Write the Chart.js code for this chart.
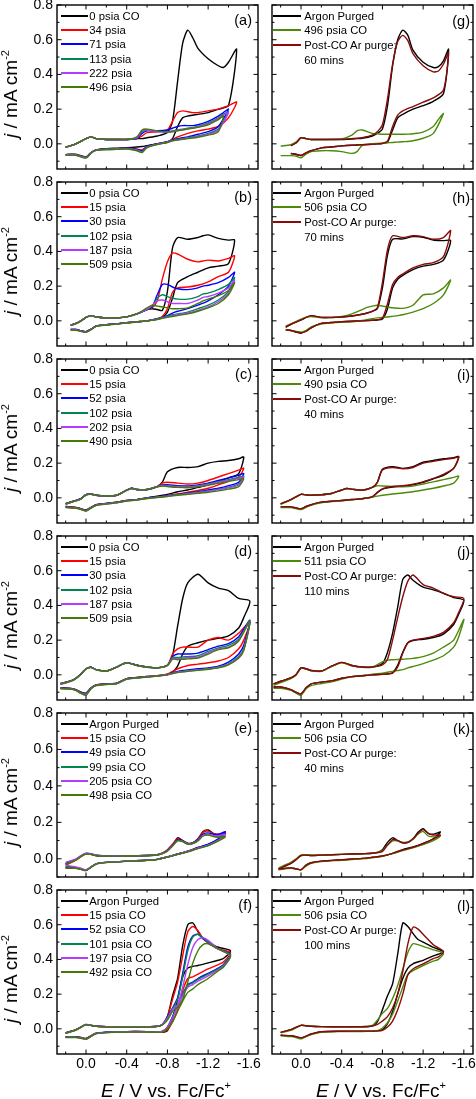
<!DOCTYPE html>
<html>
<head>
<meta charset="utf-8">
<title>CO cyclic voltammograms</title>
<script src="https://cdn.jsdelivr.net/npm/chart.js"></script>
<style>
  body { margin: 0; background: #fff; }
  #fig { position: relative; width: 476px; height: 1099px; overflow: hidden;
         font-family: "Liberation Sans", Arial, sans-serif; color: #000; }
  #fig canvas { position: absolute; }
  .leg { position: absolute; font-size: 11.3px; white-space: nowrap; }
  .leg .row { position: relative; }
  .leg .smp { position: absolute; left: 0; height: 2px; }
  .leg .txt { position: absolute; }
  .tag { position: absolute; font-size: 14.5px; line-height: 16px; }
  .ttl { position: absolute; font-size: 19px; white-space: nowrap; line-height: 20px; }
  .ttl sup { font-size: 11px; vertical-align: 8px; line-height: 0; }
</style>
</head>
<body>
<div id="fig"></div>
<script>
// axis ticks
const xMajor = [0, -0.4, -0.8, -1.2, -1.6];
const xMinor = [0.2, -0.2, -0.6, -1.0, -1.4];
const yMajor = [0, 0.2, 0.4, 0.6, 0.8];
const yMinor = [-0.1, 0.1, 0.3, 0.5, 0.7];

// ---- (a) ----
const labelsA = ['0 psia CO', '34 psia', '71 psia', '113 psia', '222 psia', '496 psia'];
const eA = [0.2, 0.1, 0.0, -0.05, -0.1, -0.2, -0.3, -0.4, -0.5, -0.55, -0.6, -0.7, -0.8, -0.85, -0.9, -0.95, -1.0, -1.05, -1.1, -1.2, -1.3, -1.35, -1.4, -1.48,
  -1.4, -1.3, -1.2, -1.1, -1.0, -0.95, -0.9, -0.85, -0.8, -0.7, -0.6, -0.55, -0.5, -0.4, -0.3, -0.2, -0.1, -0.05, 0.0, 0.1, 0.2];
const jA0 = [-0.02, 0.0, 0.03, 0.04, 0.03, 0.025, 0.025, 0.025, 0.03, 0.03, 0.035, 0.045, 0.065, 0.13, 0.36, 0.58, 0.655, 0.61, 0.55, 0.49, 0.45, 0.44, 0.47, 0.545,
  0.22, 0.2, 0.18, 0.17, 0.16, 0.15, 0.1, 0.03, 0.01, 0.0, -0.01, -0.015, -0.018, -0.022, -0.025, -0.028, -0.035, -0.05, -0.075, -0.06, -0.062];
const jA1 = [-0.02, 0.0, 0.03, 0.04, 0.03, 0.025, 0.025, 0.025, 0.03, 0.045, 0.065, 0.07, 0.08, 0.13, 0.18, 0.19, 0.185, 0.18, 0.18, 0.19, 0.2, 0.21, 0.22, 0.24,
  0.15, 0.1, 0.085, 0.075, 0.06, 0.05, 0.04, 0.025, 0.012, 0.0, -0.015, -0.035, -0.03, -0.025, -0.028, -0.03, -0.035, -0.05, -0.078, -0.062, -0.062];
const jA2 = [-0.02, 0.0, 0.03, 0.04, 0.03, 0.025, 0.025, 0.025, 0.03, 0.06, 0.075, 0.075, 0.08, 0.09, 0.1, 0.105, 0.105, 0.105, 0.11, 0.13, 0.16, 0.18, 0.2, null,
  null, 0.1, 0.07, 0.055, 0.04, 0.035, 0.03, 0.022, 0.012, 0.0, -0.015, -0.04, -0.032, -0.025, -0.028, -0.03, -0.035, -0.05, -0.078, -0.062, -0.062];
const jA3 = [-0.02, 0.0, 0.03, 0.04, 0.03, 0.025, 0.025, 0.025, 0.035, 0.07, 0.08, 0.072, 0.07, 0.075, 0.08, 0.085, 0.09, 0.095, 0.1, 0.12, 0.15, 0.17, 0.185, null,
  null, 0.085, 0.06, 0.045, 0.035, 0.03, 0.025, 0.02, 0.01, -0.002, -0.018, -0.045, -0.035, -0.027, -0.028, -0.03, -0.035, -0.05, -0.078, -0.062, -0.062];
const jA4 = [-0.02, 0.0, 0.03, 0.04, 0.03, 0.025, 0.025, 0.025, 0.035, 0.075, 0.08, 0.07, 0.068, 0.072, 0.077, 0.082, 0.087, 0.092, 0.098, 0.115, 0.145, 0.165, 0.18, null,
  null, 0.08, 0.055, 0.042, 0.033, 0.028, 0.023, 0.018, 0.009, -0.003, -0.02, -0.047, -0.037, -0.028, -0.03, -0.032, -0.037, -0.052, -0.08, -0.064, -0.064];
const jA5 = [-0.018, 0.0, 0.03, 0.04, 0.03, 0.025, 0.025, 0.025, 0.04, 0.08, 0.085, 0.075, 0.068, 0.07, 0.075, 0.08, 0.085, 0.09, 0.095, 0.11, 0.14, 0.16, null, null,
  null, 0.07, 0.05, 0.038, 0.03, 0.026, 0.022, 0.017, 0.008, -0.004, -0.022, -0.05, -0.04, -0.03, -0.032, -0.034, -0.038, -0.054, -0.082, -0.066, -0.066];

// ---- (b) ----
const labelsB = ['0 psia CO', '15 psia', '30 psia', '102 psia', '187 psia', '509 psia'];
const eB = [0.15, 0.1, 0.05, 0.0, -0.05, -0.1, -0.2, -0.3, -0.4, -0.5, -0.6, -0.65, -0.7, -0.75, -0.8, -0.85, -0.9, -1.0, -1.1, -1.15, -1.2, -1.3, -1.4, -1.46,
  -1.4, -1.3, -1.2, -1.1, -1.0, -0.9, -0.85, -0.8, -0.75, -0.7, -0.6, -0.5, -0.4, -0.3, -0.2, -0.1, -0.05, 0.0, 0.05, 0.1, 0.15];
const jB0 = [-0.025, -0.015, 0.0, 0.02, 0.03, 0.022, 0.017, 0.018, 0.023, 0.04, 0.065, 0.07, 0.065, 0.06, 0.17, 0.42, 0.48, 0.47, 0.48, 0.49, 0.495, 0.475, 0.465, 0.465,
  0.33, 0.315, 0.305, 0.28, 0.255, 0.22, 0.13, 0.05, 0.02, 0.01, 0.0, -0.005, -0.01, -0.017, -0.022, -0.03, -0.048, -0.062, -0.058, -0.05, -0.05];
const jB1 = [-0.025, -0.015, 0.0, 0.02, 0.03, 0.022, 0.017, 0.018, 0.023, 0.04, 0.065, 0.075, 0.115, 0.24, 0.34, 0.39, 0.385, 0.355, 0.34, 0.345, 0.35, 0.345, 0.36, 0.375,
  0.28, 0.255, 0.225, 0.205, 0.195, 0.19, 0.165, 0.07, 0.025, 0.012, 0.0, -0.005, -0.01, -0.017, -0.022, -0.03, -0.048, -0.062, -0.058, -0.05, -0.05];
const jB2 = [-0.025, -0.015, 0.0, 0.02, 0.03, 0.022, 0.017, 0.018, 0.023, 0.04, 0.065, 0.08, 0.15, 0.21, 0.21, 0.195, 0.185, 0.18, 0.19, 0.2, 0.205, 0.22, 0.25, 0.28,
  0.2, 0.15, 0.115, 0.09, 0.07, 0.055, 0.045, 0.03, 0.02, 0.012, 0.0, -0.005, -0.01, -0.017, -0.022, -0.03, -0.048, -0.062, -0.058, -0.05, -0.05];
const jB3 = [-0.026, -0.016, 0.0, 0.02, 0.03, 0.022, 0.017, 0.018, 0.023, 0.04, 0.066, 0.085, 0.13, 0.15, 0.14, 0.13, 0.125, 0.125, 0.14, 0.155, 0.16, 0.18, 0.21, 0.25,
  0.17, 0.12, 0.09, 0.07, 0.05, 0.04, 0.035, 0.025, 0.018, 0.01, 0.0, -0.006, -0.011, -0.018, -0.023, -0.031, -0.05, -0.064, -0.06, -0.052, -0.052];
const jB4 = [-0.027, -0.016, 0.0, 0.02, 0.03, 0.022, 0.017, 0.018, 0.023, 0.04, 0.068, 0.09, 0.115, 0.12, 0.11, 0.1, 0.1, 0.1, 0.12, 0.135, 0.14, 0.16, 0.19, 0.235,
  0.16, 0.11, 0.08, 0.06, 0.045, 0.035, 0.03, 0.022, 0.016, 0.009, 0.0, -0.006, -0.011, -0.018, -0.023, -0.031, -0.05, -0.065, -0.06, -0.052, -0.052];
const jB5 = [-0.028, -0.017, 0.0, 0.02, 0.03, 0.022, 0.017, 0.018, 0.023, 0.04, 0.075, 0.09, 0.085, 0.08, 0.075, 0.07, 0.07, 0.075, 0.1, 0.115, 0.125, 0.145, 0.175, 0.22,
  0.15, 0.1, 0.075, 0.055, 0.04, 0.03, 0.025, 0.02, 0.015, 0.008, 0.0, -0.007, -0.012, -0.019, -0.024, -0.032, -0.051, -0.066, -0.061, -0.054, -0.054];

// ---- (c) ----
const labelsC = ['0 psia CO', '15 psia', '52 psia', '102 psia', '202 psia', '490 psia'];
const eC = [0.2, 0.1, 0.05, 0.0, -0.05, -0.1, -0.2, -0.3, -0.4, -0.45, -0.5, -0.6, -0.7, -0.75, -0.8, -0.9, -1.0, -1.1, -1.2, -1.3, -1.4, -1.5, -1.55,
  -1.5, -1.4, -1.3, -1.2, -1.1, -1.0, -0.9, -0.8, -0.7, -0.6, -0.5, -0.4, -0.3, -0.2, -0.1, -0.05, 0.0, 0.05, 0.1, 0.2];
const jC0 = [-0.033, -0.015, -0.005, 0.018, 0.022, 0.015, 0.012, 0.015, 0.045, 0.055, 0.048, 0.048, 0.065, 0.09, 0.15, 0.175, 0.175, 0.18, 0.2, 0.21, 0.215, 0.225, 0.235,
  0.14, 0.115, 0.095, 0.075, 0.06, 0.045, 0.035, 0.02, 0.01, 0.0, -0.01, -0.015, -0.025, -0.032, -0.04, -0.055, -0.07, -0.062, -0.055, -0.05];
const jC1 = [-0.033, -0.015, -0.005, 0.018, 0.022, 0.015, 0.012, 0.015, 0.045, 0.055, 0.048, 0.048, 0.065, 0.085, 0.09, 0.085, 0.08, 0.085, 0.1, 0.12, 0.14, 0.16, 0.17,
  0.12, 0.095, 0.075, 0.055, 0.042, 0.032, 0.022, 0.013, 0.005, 0.0, -0.01, -0.015, -0.025, -0.032, -0.04, -0.055, -0.072, -0.063, -0.056, -0.05];
const jC2 = [-0.034, -0.016, -0.005, 0.018, 0.022, 0.015, 0.012, 0.015, 0.045, 0.055, 0.048, 0.048, 0.065, 0.075, 0.075, 0.07, 0.068, 0.075, 0.085, 0.1, 0.115, 0.13, 0.14,
  0.09, 0.07, 0.055, 0.045, 0.035, 0.027, 0.02, 0.012, 0.005, 0.0, -0.01, -0.016, -0.026, -0.033, -0.041, -0.056, -0.073, -0.064, -0.057, -0.052];
const jC3 = [-0.035, -0.017, -0.006, 0.017, 0.021, 0.014, 0.012, 0.015, 0.045, 0.054, 0.048, 0.048, 0.064, 0.072, 0.07, 0.066, 0.064, 0.07, 0.08, 0.093, 0.105, 0.118, 0.125,
  0.08, 0.062, 0.05, 0.04, 0.032, 0.025, 0.018, 0.01, 0.004, -0.002, -0.011, -0.017, -0.027, -0.034, -0.042, -0.057, -0.074, -0.065, -0.058, -0.054];
const jC4 = [-0.036, -0.018, -0.006, 0.017, 0.021, 0.014, 0.011, 0.015, 0.044, 0.054, 0.047, 0.047, 0.064, 0.07, 0.068, 0.064, 0.062, 0.067, 0.077, 0.09, 0.1, 0.112, 0.12,
  0.075, 0.058, 0.047, 0.038, 0.03, 0.023, 0.017, 0.01, 0.003, -0.003, -0.012, -0.018, -0.028, -0.035, -0.043, -0.058, -0.075, -0.066, -0.059, -0.055];
const jC5 = [-0.037, -0.018, -0.007, 0.016, 0.02, 0.014, 0.011, 0.014, 0.044, 0.053, 0.047, 0.047, 0.063, 0.068, 0.065, 0.06, 0.058, 0.063, 0.072, 0.083, 0.095, 0.105, 0.11,
  0.065, 0.05, 0.04, 0.032, 0.026, 0.02, 0.015, 0.008, 0.002, -0.004, -0.013, -0.019, -0.029, -0.036, -0.044, -0.059, -0.076, -0.067, -0.06, -0.056];

// ---- (d) ----
const labelsD = ['0 psia CO', '15 psia', '30 psia', '102 psia', '187 psia', '509 psia'];
const eD = [0.25, 0.15, 0.1, 0.05, 0.0, -0.05, -0.1, -0.2, -0.3, -0.4, -0.5, -0.6, -0.7, -0.8, -0.85, -0.9, -0.95, -1.0, -1.1, -1.2, -1.3, -1.4, -1.5, -1.61,
  -1.55, -1.5, -1.4, -1.3, -1.2, -1.1, -1.0, -0.95, -0.9, -0.85, -0.8, -0.7, -0.6, -0.5, -0.4, -0.3, -0.2, -0.1, -0.05, 0.0, 0.05, 0.1, 0.15, 0.25];
const jD0 = [-0.05, -0.035, -0.02, 0.005, 0.035, 0.044, 0.03, 0.022, 0.045, 0.07, 0.055, 0.045, 0.04, 0.055, 0.11, 0.28, 0.44, 0.53, 0.58, 0.53, 0.5, 0.485, 0.44, 0.425,
  0.33, 0.27, 0.225, 0.21, 0.2, 0.185, 0.165, 0.12, 0.05, 0.015, 0.0, -0.005, -0.01, -0.015, -0.022, -0.048, -0.052, -0.058, -0.075, -0.105, -0.1, -0.085, -0.078, -0.075];
const jD1 = [-0.05, -0.035, -0.02, 0.005, 0.035, 0.044, 0.03, 0.022, 0.045, 0.07, 0.055, 0.045, 0.04, 0.055, 0.12, 0.15, 0.16, 0.16, 0.16, 0.2, 0.215, 0.2, 0.24, 0.305,
  0.2, 0.15, 0.1, 0.08, 0.07, 0.062, 0.054, 0.045, 0.035, 0.02, 0.005, -0.005, -0.01, -0.015, -0.022, -0.048, -0.052, -0.058, -0.076, -0.107, -0.1, -0.086, -0.078, -0.076];
const jD2 = [-0.05, -0.035, -0.02, 0.005, 0.035, 0.044, 0.03, 0.022, 0.045, 0.07, 0.055, 0.045, 0.04, 0.055, 0.105, 0.12, 0.12, 0.12, 0.125, 0.145, 0.165, 0.18, 0.22, 0.315,
  0.17, 0.12, 0.073, 0.05, 0.04, 0.035, 0.028, 0.025, 0.02, 0.012, 0.003, -0.006, -0.011, -0.016, -0.023, -0.049, -0.053, -0.059, -0.077, -0.108, -0.101, -0.087, -0.079, -0.077];
const jD3 = [-0.052, -0.036, -0.021, 0.004, 0.034, 0.043, 0.03, 0.022, 0.045, 0.07, 0.055, 0.045, 0.04, 0.055, 0.1, 0.1, 0.103, 0.105, 0.11, 0.135, 0.155, 0.17, 0.205, 0.31,
  0.15, 0.105, 0.063, 0.045, 0.035, 0.03, 0.024, 0.02, 0.016, 0.01, 0.002, -0.006, -0.012, -0.017, -0.024, -0.05, -0.054, -0.06, -0.078, -0.11, -0.103, -0.088, -0.08, -0.078];
const jD4 = [-0.053, -0.037, -0.021, 0.004, 0.034, 0.043, 0.029, 0.021, 0.044, 0.069, 0.054, 0.044, 0.04, 0.055, 0.095, 0.092, 0.096, 0.1, 0.102, 0.127, 0.15, 0.16, 0.2, 0.31,
  0.145, 0.1, 0.06, 0.042, 0.033, 0.028, 0.022, 0.018, 0.014, 0.008, 0.002, -0.007, -0.012, -0.018, -0.025, -0.051, -0.055, -0.061, -0.079, -0.113, -0.105, -0.089, -0.081, -0.079];
const jD5 = [-0.054, -0.038, -0.022, 0.003, 0.033, 0.042, 0.029, 0.021, 0.044, 0.069, 0.054, 0.044, 0.04, 0.054, 0.09, 0.087, 0.09, 0.092, 0.096, 0.12, 0.145, 0.156, 0.195, 0.31,
  0.14, 0.095, 0.058, 0.04, 0.032, 0.026, 0.02, 0.017, 0.013, 0.007, 0.001, -0.007, -0.013, -0.018, -0.025, -0.052, -0.056, -0.062, -0.08, -0.118, -0.107, -0.09, -0.082, -0.08];

// ---- (e) ----
const labelsE = ['Argon Purged', '15 psia CO', '49 psia CO', '99 psia CO', '205 psia CO', '498 psia CO'];
const eE = [0.2, 0.1, 0.05, 0.0, -0.05, -0.1, -0.2, -0.4, -0.6, -0.7, -0.75, -0.8, -0.85, -0.9, -0.95, -1.0, -1.05, -1.1, -1.15, -1.2, -1.25, -1.3, -1.37,
  -1.3, -1.2, -1.1, -1.0, -0.9, -0.8, -0.7, -0.6, -0.4, -0.2, -0.1, -0.05, 0.0, 0.05, 0.1, 0.2];
const jE0 = [-0.03, -0.005, 0.015, 0.028, 0.025, 0.018, 0.016, 0.016, 0.018, 0.022, 0.03, 0.045, 0.075, 0.115, 0.1, 0.085, 0.088, 0.11, 0.15, 0.158, 0.14, 0.132, 0.14,
  0.105, 0.075, 0.06, 0.04, 0.025, 0.01, -0.003, -0.008, -0.013, -0.02, -0.028, -0.045, -0.062, -0.055, -0.05, -0.05];
const jE1 = [-0.035, -0.008, 0.012, 0.027, 0.025, 0.018, 0.016, 0.016, 0.018, 0.023, 0.032, 0.05, 0.08, 0.11, 0.097, 0.083, 0.087, 0.108, 0.145, 0.152, 0.138, 0.135, 0.145,
  0.108, 0.078, 0.062, 0.042, 0.026, 0.01, -0.003, -0.008, -0.013, -0.02, -0.028, -0.046, -0.065, -0.058, -0.052, -0.052];
const jE2 = [-0.025, -0.005, 0.015, 0.03, 0.027, 0.019, 0.016, 0.016, 0.018, 0.022, 0.03, 0.046, 0.075, 0.105, 0.097, 0.083, 0.086, 0.105, 0.135, 0.142, 0.135, 0.135, 0.148,
  0.11, 0.08, 0.062, 0.042, 0.026, 0.01, -0.003, -0.008, -0.013, -0.02, -0.028, -0.045, -0.063, -0.055, -0.05, -0.045];
const jE3 = [-0.028, -0.006, 0.014, 0.028, 0.025, 0.018, 0.016, 0.016, 0.018, 0.022, 0.029, 0.043, 0.07, 0.1, 0.095, 0.082, 0.085, 0.1, 0.128, 0.135, 0.125, 0.122, 0.125,
  0.1, 0.073, 0.058, 0.04, 0.025, 0.01, -0.003, -0.008, -0.013, -0.02, -0.028, -0.045, -0.062, -0.055, -0.05, -0.04];
const jE4 = [-0.02, 0.0, 0.018, 0.03, 0.027, 0.019, 0.016, 0.016, 0.018, 0.022, 0.029, 0.044, 0.072, 0.1, 0.095, 0.082, 0.085, 0.102, 0.128, 0.133, 0.127, 0.127, 0.135,
  0.102, 0.075, 0.058, 0.04, 0.025, 0.01, -0.003, -0.008, -0.013, -0.02, -0.028, -0.044, -0.06, -0.052, -0.045, -0.035];
const jE5 = [-0.03, -0.008, 0.012, 0.026, 0.024, 0.017, 0.015, 0.015, 0.017, 0.021, 0.028, 0.042, 0.07, 0.1, 0.094, 0.08, 0.083, 0.098, 0.125, 0.13, 0.122, 0.118, 0.12,
  0.098, 0.072, 0.056, 0.038, 0.024, 0.009, -0.004, -0.009, -0.014, -0.021, -0.029, -0.046, -0.064, -0.058, -0.052, -0.05];

// ---- (f) ----
const labelsF = ['Argon Purged', '15 psia CO', '52 psia CO', '101 psia CO', '197 psia CO', '492 psia CO'];
const eF = [0.2, 0.1, 0.05, 0.0, -0.05, -0.1, -0.2, -0.4, -0.6, -0.7, -0.75, -0.8, -0.85, -0.9, -0.95, -1.0, -1.05, -1.1, -1.15, -1.2, -1.3, -1.42,
  -1.35, -1.3, -1.2, -1.1, -1.05, -1.0, -0.95, -0.9, -0.85, -0.8, -0.75, -0.7, -0.6, -0.4, -0.2, -0.1, -0.05, 0.0, 0.05, 0.1, 0.2];
const jF0 = [-0.023, -0.005, 0.01, 0.024, 0.02, 0.015, 0.012, 0.012, 0.012, 0.015, 0.025, 0.07, 0.19, 0.29, 0.48, 0.6, 0.61, 0.56, 0.52, 0.5, 0.47, 0.45,
  0.405, 0.395, 0.38, 0.365, 0.36, 0.35, 0.3, 0.17, 0.06, -0.01, -0.02, -0.018, -0.016, -0.016, -0.02, -0.025, -0.04, -0.055, -0.05, -0.046, -0.046];
const jF1 = [-0.023, -0.005, 0.01, 0.024, 0.02, 0.015, 0.012, 0.012, 0.012, 0.015, 0.025, 0.07, 0.17, 0.27, 0.42, 0.56, 0.59, 0.565, 0.52, 0.495, 0.46, 0.44,
  0.385, 0.37, 0.345, 0.315, 0.3, 0.29, 0.22, 0.11, 0.04, -0.005, -0.018, -0.018, -0.016, -0.016, -0.02, -0.025, -0.04, -0.056, -0.05, -0.046, -0.046];
const jF2 = [-0.024, -0.006, 0.01, 0.024, 0.02, 0.015, 0.012, 0.012, 0.012, 0.015, 0.025, 0.07, 0.12, 0.18, 0.32, 0.47, 0.535, 0.545, 0.52, 0.5, 0.46, 0.43,
  0.37, 0.35, 0.32, 0.29, 0.27, 0.255, 0.2, 0.14, 0.07, 0.01, -0.015, -0.017, -0.016, -0.016, -0.02, -0.026, -0.041, -0.057, -0.051, -0.047, -0.047];
const jF3 = [-0.025, -0.006, 0.01, 0.025, 0.021, 0.015, 0.012, 0.012, 0.012, 0.015, 0.025, 0.065, 0.115, 0.17, 0.3, 0.45, 0.53, 0.545, 0.525, 0.5, 0.46, 0.425,
  0.365, 0.345, 0.315, 0.285, 0.265, 0.25, 0.2, 0.14, 0.065, 0.01, -0.015, -0.017, -0.016, -0.017, -0.021, -0.027, -0.042, -0.058, -0.052, -0.048, -0.048];
const jF4 = [-0.026, -0.007, 0.009, 0.025, 0.021, 0.015, 0.012, 0.012, 0.012, 0.015, 0.025, 0.06, 0.11, 0.14, 0.24, 0.37, 0.47, 0.515, 0.525, 0.51, 0.46, 0.42,
  0.36, 0.34, 0.305, 0.275, 0.255, 0.24, 0.19, 0.13, 0.06, 0.01, -0.015, -0.018, -0.017, -0.017, -0.021, -0.027, -0.043, -0.059, -0.053, -0.049, -0.049];
const jF5 = [-0.027, -0.008, 0.009, 0.024, 0.02, 0.014, 0.011, 0.011, 0.011, 0.014, 0.022, 0.05, 0.1, 0.125, 0.17, 0.27, 0.38, 0.45, 0.485, 0.49, 0.46, 0.42,
  0.355, 0.335, 0.29, 0.255, 0.23, 0.21, 0.16, 0.1, 0.04, 0.0, -0.018, -0.019, -0.018, -0.018, -0.022, -0.028, -0.044, -0.06, -0.054, -0.05, -0.05];

// ---- (g) ----
const labelsG = ['Argon Purged', '496 psia CO', 'Post-CO Ar purge:\n60 mins'];
const eG = [0.2, 0.1, 0.05, 0.0, -0.05, -0.1, -0.2, -0.3, -0.4, -0.5, -0.55, -0.6, -0.7, -0.75, -0.8, -0.85, -0.9, -0.95, -1.0, -1.05, -1.1, -1.2, -1.3, -1.35, -1.4, -1.45,
  -1.4, -1.3, -1.2, -1.1, -1.0, -0.95, -0.9, -0.85, -0.8, -0.75, -0.7, -0.6, -0.55, -0.5, -0.4, -0.3, -0.2, -0.1, -0.05, 0.0, 0.05, 0.1, 0.2];
const jG0 = [null, -0.01, 0.005, 0.035, 0.03, 0.025, 0.025, 0.025, 0.025, 0.028, 0.03, 0.032, 0.045, 0.06, 0.085, 0.22, 0.45, 0.6, 0.655, 0.625, 0.54, 0.47, 0.44, 0.445, 0.478, 0.545,
  0.29, 0.245, 0.22, 0.2, 0.17, 0.15, 0.08, 0.01, 0.002, 0.0, -0.002, -0.005, -0.007, -0.008, -0.012, -0.018, -0.023, -0.04, -0.052, -0.067, -0.06, -0.056, null];
const jG1 = [-0.013, -0.005, 0.01, 0.035, 0.03, 0.025, 0.025, 0.026, 0.028, 0.05, 0.075, 0.08, 0.06, 0.058, 0.055, 0.055, 0.055, 0.055, 0.055, 0.056, 0.058, 0.068, 0.1, 0.14, 0.175, null,
  null, 0.06, 0.032, 0.018, 0.012, 0.01, 0.008, 0.006, 0.004, 0.002, 0.0, -0.01, -0.045, -0.055, -0.045, -0.04, -0.04, -0.045, -0.06, -0.08, -0.07, -0.068, -0.068];
const jG2 = [null, -0.01, 0.005, 0.035, 0.03, 0.025, 0.025, 0.025, 0.026, 0.03, 0.032, 0.035, 0.05, 0.07, 0.11, 0.26, 0.46, 0.59, 0.625, 0.595, 0.52, 0.45, 0.415, 0.42, 0.46, 0.525,
  0.31, 0.265, 0.24, 0.215, 0.19, 0.165, 0.1, 0.015, 0.003, 0.0, -0.002, -0.005, -0.007, -0.008, -0.012, -0.018, -0.023, -0.04, -0.052, -0.067, -0.06, -0.056, null];

// ---- (h) ----
const labelsH = ['Argon Purged', '506 psia CO', 'Post-CO Ar purge:\n70 mins'];
const eH = [0.15, 0.1, 0.0, -0.05, -0.1, -0.2, -0.3, -0.4, -0.5, -0.6, -0.65, -0.7, -0.75, -0.8, -0.85, -0.9, -1.0, -1.1, -1.2, -1.3, -1.4, -1.47,
  -1.4, -1.3, -1.2, -1.1, -1.0, -0.95, -0.9, -0.85, -0.8, -0.75, -0.7, -0.6, -0.5, -0.4, -0.3, -0.2, -0.1, -0.05, 0.0, 0.1, 0.15];
const jH0 = [-0.037, -0.02, 0.005, 0.02, 0.03, 0.02, 0.02, 0.022, 0.028, 0.038, 0.045, 0.055, 0.07, 0.19, 0.38, 0.47, 0.472, 0.485, 0.482, 0.465, 0.462, 0.462,
  0.35, 0.325, 0.315, 0.295, 0.262, 0.24, 0.19, 0.07, 0.01, 0.005, 0.003, 0.0, -0.002, -0.005, -0.01, -0.015, -0.04, -0.06, -0.07, -0.056, -0.052];
const jH1 = [-0.03, -0.018, 0.01, 0.02, 0.025, 0.018, 0.018, 0.025, 0.04, 0.065, 0.078, 0.085, 0.09, 0.085, 0.08, 0.075, 0.072, 0.09, 0.15, 0.155, 0.19, 0.235,
  0.15, 0.1, 0.07, 0.05, 0.035, 0.03, 0.026, 0.022, 0.02, 0.017, 0.013, 0.002, -0.005, -0.008, -0.012, -0.018, -0.035, -0.055, -0.065, -0.055, -0.05];
const jH2 = [-0.037, -0.02, 0.005, 0.02, 0.03, 0.02, 0.02, 0.022, 0.028, 0.038, 0.045, 0.055, 0.075, 0.22, 0.41, 0.49, 0.48, 0.49, 0.485, 0.47, 0.48, 0.52,
  0.37, 0.335, 0.325, 0.305, 0.27, 0.25, 0.21, 0.1, 0.015, 0.006, 0.003, 0.0, -0.002, -0.005, -0.01, -0.015, -0.04, -0.06, -0.07, -0.056, -0.052];

// ---- (i) ----
const labelsI = ['Argon Purged', '490 psia CO', 'Post-CO Ar purge:\n40 mins'];
const eI = [0.2, 0.1, 0.05, 0.0, -0.05, -0.1, -0.2, -0.3, -0.4, -0.45, -0.5, -0.6, -0.7, -0.75, -0.8, -0.9, -1.0, -1.1, -1.2, -1.3, -1.4, -1.5, -1.55,
  -1.5, -1.4, -1.3, -1.2, -1.1, -1.0, -0.9, -0.8, -0.75, -0.7, -0.6, -0.5, -0.4, -0.3, -0.2, -0.1, -0.05, 0.0, 0.05, 0.1, 0.2];
const jI0 = [-0.035, -0.01, 0.005, 0.02, 0.017, 0.015, 0.018, 0.025, 0.045, 0.054, 0.05, 0.044, 0.06, 0.09, 0.165, 0.18, 0.17, 0.18, 0.205, 0.215, 0.225, 0.232, 0.237,
  0.17, 0.13, 0.11, 0.09, 0.075, 0.068, 0.062, 0.05, 0.03, 0.005, -0.005, -0.01, -0.015, -0.02, -0.025, -0.04, -0.05, -0.062, -0.058, -0.052, -0.052];
const jI1 = [-0.038, -0.012, 0.004, 0.02, 0.017, 0.015, 0.018, 0.025, 0.045, 0.054, 0.05, 0.044, 0.06, 0.07, 0.068, 0.066, 0.064, 0.068, 0.08, 0.092, 0.105, 0.118, 0.125,
  0.085, 0.068, 0.055, 0.045, 0.035, 0.028, 0.022, 0.015, 0.01, 0.005, -0.005, -0.012, -0.017, -0.022, -0.028, -0.042, -0.055, -0.068, -0.062, -0.056, -0.056];
const jI2 = [-0.035, -0.01, 0.005, 0.02, 0.017, 0.015, 0.018, 0.025, 0.045, 0.054, 0.05, 0.044, 0.06, 0.088, 0.16, 0.175, 0.168, 0.175, 0.2, 0.21, 0.22, 0.228, 0.235,
  0.17, 0.135, 0.112, 0.092, 0.078, 0.07, 0.065, 0.052, 0.032, 0.006, -0.005, -0.01, -0.015, -0.02, -0.025, -0.04, -0.05, -0.062, -0.058, -0.052, -0.052];

// ---- (j) ----
const labelsJ = ['Argon Purged', '511 psia CO', 'Post-CO Ar purge:\n110 mins'];
const eJ = [0.27, 0.2, 0.1, 0.05, 0.0, -0.05, -0.1, -0.2, -0.3, -0.4, -0.5, -0.6, -0.7, -0.8, -0.85, -0.9, -0.95, -1.0, -1.05, -1.1, -1.2, -1.3, -1.4, -1.5, -1.6,
  -1.55, -1.5, -1.4, -1.3, -1.2, -1.1, -1.05, -1.0, -0.95, -0.9, -0.85, -0.8, -0.7, -0.6, -0.5, -0.4, -0.3, -0.2, -0.1, -0.05, 0.0, 0.05, 0.1, 0.2, 0.27];
const jJ0 = [-0.052, -0.037, -0.018, 0.0, 0.04, 0.035, 0.025, 0.022, 0.05, 0.072, 0.054, 0.045, 0.045, 0.065, 0.13, 0.24, 0.39, 0.55, 0.575, 0.545, 0.505, 0.49, 0.47, 0.445, 0.43,
  0.35, 0.29, 0.235, 0.215, 0.205, 0.198, 0.185, 0.13, 0.055, 0.012, 0.005, 0.003, 0.0, -0.005, -0.01, -0.02, -0.035, -0.042, -0.052, -0.075, -0.11, -0.1, -0.085, -0.07, -0.07];
const jJ1 = [-0.06, -0.045, -0.022, -0.003, 0.038, 0.033, 0.023, 0.02, 0.048, 0.07, 0.052, 0.043, 0.044, 0.075, 0.085, 0.087, 0.088, 0.09, 0.092, 0.095, 0.105, 0.125, 0.16, 0.2, 0.32,
  0.22, 0.16, 0.11, 0.085, 0.065, 0.048, 0.04, 0.03, 0.025, 0.02, 0.015, 0.01, 0.004, -0.004, -0.012, -0.025, -0.04, -0.05, -0.062, -0.08, -0.118, -0.105, -0.09, -0.078, -0.078];
const jJ2 = [-0.052, -0.037, -0.018, 0.0, 0.04, 0.035, 0.025, 0.022, 0.05, 0.072, 0.054, 0.045, 0.045, 0.058, 0.09, 0.2, 0.33, 0.45, 0.54, 0.575, 0.52, 0.5, 0.47, 0.45, 0.44,
  0.36, 0.3, 0.245, 0.222, 0.21, 0.2, 0.185, 0.125, 0.045, 0.01, 0.005, 0.003, 0.0, -0.005, -0.01, -0.02, -0.035, -0.042, -0.052, -0.075, -0.11, -0.1, -0.085, -0.07, -0.07];

// ---- (k) ----
const labelsK = ['Argon Purged', '506 psia CO', 'Post-CO Ar purge:\n40 mins'];
const eK = [0.22, 0.1, 0.05, 0.0, -0.05, -0.1, -0.2, -0.4, -0.6, -0.7, -0.75, -0.8, -0.85, -0.9, -0.95, -1.0, -1.05, -1.1, -1.15, -1.2, -1.25, -1.3, -1.37,
  -1.3, -1.2, -1.1, -1.0, -0.9, -0.8, -0.7, -0.6, -0.4, -0.2, -0.1, -0.05, 0.0, 0.05, 0.1, 0.22];
const jK0 = [-0.055, -0.025, -0.005, 0.018, 0.02, 0.018, 0.02, 0.024, 0.028, 0.03, 0.035, 0.05, 0.09, 0.115, 0.1, 0.087, 0.09, 0.11, 0.145, 0.165, 0.14, 0.135, 0.147,
  0.11, 0.085, 0.065, 0.05, 0.03, 0.015, 0.008, 0.002, -0.005, -0.013, -0.022, -0.035, -0.06, -0.055, -0.05, -0.058];
const jK1 = [-0.05, -0.02, 0.0, 0.02, 0.022, 0.02, 0.02, 0.024, 0.027, 0.03, 0.035, 0.045, 0.075, 0.098, 0.098, 0.09, 0.092, 0.107, 0.135, 0.15, 0.125, 0.12, 0.125,
  0.1, 0.078, 0.06, 0.045, 0.028, 0.014, 0.006, 0.0, -0.008, -0.015, -0.025, -0.04, -0.06, -0.055, -0.052, -0.06];
const jK2 = [-0.055, -0.025, -0.005, 0.018, 0.02, 0.018, 0.02, 0.024, 0.028, 0.03, 0.033, 0.04, 0.075, 0.105, 0.1, 0.088, 0.09, 0.108, 0.14, 0.16, 0.14, 0.13, 0.13,
  0.108, 0.083, 0.063, 0.048, 0.03, 0.015, 0.008, 0.002, -0.005, -0.013, -0.022, -0.035, -0.06, -0.055, -0.05, -0.058];

// ---- (l) ----
const labelsL = ['Argon Purged', '506 psia CO', 'Post-CO Ar purge:\n100 mins'];
const eL = [0.2, 0.1, 0.05, 0.0, -0.05, -0.1, -0.2, -0.4, -0.6, -0.7, -0.75, -0.8, -0.85, -0.9, -0.95, -1.0, -1.05, -1.1, -1.15, -1.2, -1.3, -1.4,
  -1.35, -1.3, -1.2, -1.1, -1.05, -1.0, -0.95, -0.9, -0.85, -0.8, -0.75, -0.7, -0.6, -0.4, -0.2, -0.1, -0.05, 0.0, 0.05, 0.1, 0.2];
const jL0 = [-0.02, -0.005, 0.008, 0.02, 0.018, 0.015, 0.013, 0.012, 0.012, 0.016, 0.04, 0.11, 0.19, 0.26, 0.43, 0.61, 0.59, 0.55, 0.515, 0.5, 0.47, 0.445,
  0.43, 0.42, 0.395, 0.375, 0.35, 0.29, 0.2, 0.1, 0.03, -0.005, -0.012, -0.013, -0.013, -0.014, -0.017, -0.03, -0.042, -0.052, -0.045, -0.04, -0.037];
const jL1 = [-0.022, -0.008, 0.006, 0.02, 0.018, 0.015, 0.013, 0.012, 0.013, 0.02, 0.05, 0.09, 0.118, 0.175, 0.25, 0.345, 0.44, 0.49, 0.485, 0.475, 0.455, 0.437,
  0.4, 0.39, 0.365, 0.335, 0.315, 0.24, 0.16, 0.085, 0.035, 0.005, -0.01, -0.013, -0.015, -0.016, -0.02, -0.033, -0.045, -0.058, -0.05, -0.045, -0.04];
const jL2 = [-0.02, -0.005, 0.008, 0.02, 0.018, 0.015, 0.013, 0.012, 0.012, 0.016, 0.025, 0.045, 0.07, 0.12, 0.2, 0.33, 0.49, 0.585, 0.575, 0.545, 0.485, 0.445,
  0.415, 0.405, 0.375, 0.345, 0.31, 0.2, 0.11, 0.045, 0.01, -0.008, -0.012, -0.013, -0.013, -0.014, -0.017, -0.03, -0.042, -0.052, -0.045, -0.04, -0.037];

const colorsLeft = ['#000000', '#ff0000', '#0000ff', '#00874f', '#b43cff', '#427a06'];
const colorsRight = ['#000000', '#4c8a0a', '#8a0a0a'];

const panels = [
  {tag: '(a)', col: 0, row: 0, e: eA, j: [jA0, jA1, jA2, jA3, jA4, jA5], labels: labelsA},
  {tag: '(b)', col: 0, row: 1, e: eB, j: [jB0, jB1, jB2, jB3, jB4, jB5], labels: labelsB},
  {tag: '(c)', col: 0, row: 2, e: eC, j: [jC0, jC1, jC2, jC3, jC4, jC5], labels: labelsC},
  {tag: '(d)', col: 0, row: 3, e: eD, j: [jD0, jD1, jD2, jD3, jD4, jD5], labels: labelsD},
  {tag: '(e)', col: 0, row: 4, e: eE, j: [jE0, jE1, jE2, jE3, jE4, jE5], labels: labelsE},
  {tag: '(f)', col: 0, row: 5, e: eF, j: [jF0, jF1, jF2, jF3, jF4, jF5], labels: labelsF},
  {tag: '(g)', col: 1, row: 0, e: eG, j: [jG0, jG1, jG2], labels: labelsG},
  {tag: '(h)', col: 1, row: 1, e: eH, j: [jH0, jH1, jH2], labels: labelsH},
  {tag: '(i)', col: 1, row: 2, e: eI, j: [jI0, jI1, jI2], labels: labelsI},
  {tag: '(j)', col: 1, row: 3, e: eJ, j: [jJ0, jJ1, jJ2], labels: labelsJ},
  {tag: '(k)', col: 1, row: 4, e: eK, j: [jK0, jK1, jK2], labels: labelsK},
  {tag: '(l)', col: 1, row: 5, e: eL, j: [jL0, jL1, jL2], labels: labelsL}
];

// layout of the grid of panels (page pixels)
const colLeft = [57, 272];
const colRight = [258, 473];
const rowTop = [5, 182, 359, 536, 713, 890];
const plotH = 164;
const xMin = -1.69, xMax = 0.285;

Chart.defaults.font.family = '"Liberation Sans", Arial, sans-serif';
Chart.defaults.color = '#000';

const fig = document.getElementById('fig');

// box frame with inward major/minor ticks on all four sides
const frame = {
  id: 'frame',
  afterDatasetsDraw(chart) {
    const {ctx, chartArea: a, scales: {x, y}} = chart;
    ctx.save();
    ctx.strokeStyle = '#000';
    ctx.lineWidth = 1;
    ctx.beginPath();
    const vt = (v, len) => {
      const px = x.getPixelForValue(v);
      ctx.moveTo(px, a.top); ctx.lineTo(px, a.top + len);
      ctx.moveTo(px, a.bottom); ctx.lineTo(px, a.bottom - len);
    };
    const ht = (v, len) => {
      const py = y.getPixelForValue(v);
      ctx.moveTo(a.left, py); ctx.lineTo(a.left + len, py);
      ctx.moveTo(a.right, py); ctx.lineTo(a.right - len, py);
    };
    xMajor.forEach(v => vt(v, 4.5));
    xMinor.forEach(v => vt(v, 2.5));
    yMajor.forEach(v => ht(v, 4.5));
    yMinor.forEach(v => ht(v, 2.5));
    ctx.stroke();
    ctx.lineWidth = 1.4;
    ctx.strokeRect(a.left, a.top, a.right - a.left, a.bottom - a.top);
    ctx.restore();
  }
};

let bad = [];

panels.forEach(p => {
  const left = colLeft[p.col], right = colRight[p.col];
  const top = rowTop[p.row], bottom = top + plotH;
  const showY = p.col === 0, showX = p.row === 5;
  const yMin = p.row === 4 ? -0.1 : -0.145;
  const padL = showY ? left : 4, padT = 9, padR = 3, padB = showX ? 26 : 4;

  const cv = document.createElement('canvas');
  cv.width = right - left + padL + padR;
  cv.height = bottom - top + padT + padB;
  cv.style.left = (left - padL) + 'px';
  cv.style.top = (top - padT) + 'px';
  fig.appendChild(cv);

  const colors = p.col === 0 ? colorsLeft : colorsRight;
  p.j.forEach((arr, k) => { if (arr.length !== p.e.length) bad.push(p.tag + k + ':' + arr.length + '/' + p.e.length); });

  const datasets = p.j.map((arr, k) => ({
    data: p.e.map((ev, n) => ({x: ev, y: arr[n] === undefined ? null : arr[n]})),
    borderColor: colors[k],
    borderWidth: 1.4,
    pointRadius: 0,
    tension: 0.25,
    spanGaps: true,
    fill: false,
    order: p.j.length - k
  }));

  new Chart(cv, {
    type: 'line',
    data: {datasets},
    options: {
      responsive: false,
      animation: false,
      events: [],
      layout: {autoPadding: false, padding: {left: 0, top: padT, right: padR, bottom: 0}},
      plugins: {legend: {display: false}, tooltip: {enabled: false}},
      scales: {
        x: {
          type: 'linear', reverse: true, min: xMin, max: xMax,
          grid: {display: false, drawTicks: false, tickLength: 0},
          border: {display: false},
          ticks: {display: showX, padding: 2, autoSkip: false, maxRotation: 0,
                  font: {size: 14}, color: '#000', callback: v => v.toFixed(1)},
          afterBuildTicks: s => { s.ticks = xMajor.map(v => ({value: v})); },
          afterFit: s => { s.height = padB; s.paddingLeft = 0; s.paddingRight = 0; }
        },
        y: {
          type: 'linear', min: yMin, max: 0.8,
          grid: {display: false, drawTicks: false, tickLength: 0},
          border: {display: false},
          ticks: {display: showY, padding: 4, font: {size: 14}, color: '#000',
                  callback: v => v.toFixed(1)},
          afterBuildTicks: s => { s.ticks = yMajor.map(v => ({value: v})); },
          afterFit: s => { s.width = padL; s.paddingTop = 0; s.paddingBottom = 0; }
        }
      }
    },
    plugins: [frame]
  });

  // legend inside the frame
  const leg = document.createElement('div');
  leg.className = 'leg';
  const off = p.col === 0 ? 4 : 1;
  const rowH = p.col === 0 ? 14.3 : 14.7;
  leg.style.left = (left + off) + 'px';
  leg.style.top = (top + 11 - rowH / 2) + 'px';
  p.labels.forEach((lab, k) => {
    lab.split('\n').forEach((line, m) => {
      const row = document.createElement('div');
      row.className = 'row';
      row.style.height = rowH + 'px';
      if (m === 0) {
        const s = document.createElement('div');
        s.className = 'smp';
        s.style.width = (p.col === 0 ? 27 : 28) + 'px';
        s.style.top = Math.round(rowH / 2 - 1) + 'px';
        s.style.background = colors[k];
        row.appendChild(s);
      }
      const t = document.createElement('span');
      t.className = 'txt';
      t.textContent = line;
      t.style.left = (32.3 - off) + 'px';
      t.style.top = '0px';
      t.style.lineHeight = rowH + 'px';
      row.appendChild(t);
      leg.appendChild(row);
    });
  });
  fig.appendChild(leg);

  const tag = document.createElement('div');
  tag.className = 'tag';
  tag.textContent = p.tag;
  tag.style.right = (476 - right + (p.col === 0 ? 6 : 3)) + 'px';
  tag.style.top = (top + (p.col === 0 ? 15 : 16) - 8) + 'px';
  fig.appendChild(tag);

  if (showY) {
    const yt = document.createElement('div');
    yt.className = 'ttl';
    yt.innerHTML = '<i>j</i> / mA cm<sup>-2</sup>';
    yt.style.left = '11px';
    yt.style.top = (top + 89) + 'px';
    yt.style.transform = 'translate(-50%, -50%) rotate(-90deg)';
    fig.appendChild(yt);
  }
  if (showX) {
    const xt = document.createElement('div');
    xt.className = 'ttl';
    xt.innerHTML = '<i>E</i> / V vs. Fc/Fc<sup>+</sup>';
    xt.style.left = (p.col === 0 ? 166 : 381) + 'px';
    xt.style.top = '1091px';
    xt.style.transform = 'translate(-50%, -50%)';
    fig.appendChild(xt);
  }
});

if (bad.length) {
  const w = document.createElement('div');
  w.style.cssText = 'position:absolute;left:100px;top:500px;color:red;font-size:12px;background:#ff0';
  w.textContent = 'LEN ' + bad.join(' ');
  fig.appendChild(w);
}
</script>
</body>
</html>
